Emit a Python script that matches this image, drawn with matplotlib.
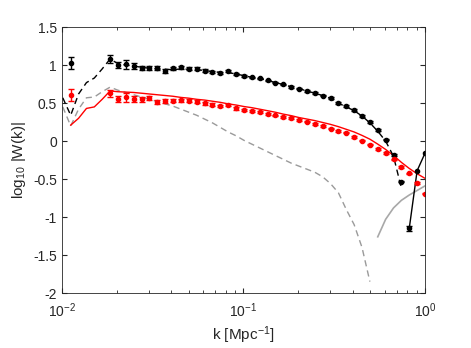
import numpy as np
import matplotlib
matplotlib.use('Agg')
import matplotlib.pyplot as plt

plt.rcParams['font.family'] = ['Liberation Sans', 'DejaVu Sans']
plt.rcParams['mathtext.fontset'] = 'custom'
plt.rcParams['mathtext.rm'] = 'Liberation Sans'
plt.rcParams['mathtext.it'] = 'Liberation Sans'

# k grid of the measured points
k_data = [0.01117, 0.01840, 0.02033, 0.02247, 0.02483, 0.02744, 0.03032,
          0.03350, 0.03703, 0.04091, 0.04521, 0.04996, 0.05521, 0.06101,
          0.06742, 0.07450, 0.08232, 0.09097, 0.1006, 0.1111, 0.1228,
          0.1357, 0.1499, 0.1657, 0.1831, 0.2023, 0.2236, 0.2471, 0.2730,
          0.3017, 0.3334, 0.3684, 0.4071, 0.4498, 0.4971, 0.5493, 0.6070,
          0.6708, 0.7413, 0.8190, 0.9051, 1.0]

black_y = [1.03, 1.08, 1.00, 1.01, 0.99, 0.96, 0.96, 0.96, 0.925, 0.96,
           0.97, 0.95, 0.95, 0.925, 0.91, 0.90, 0.92, 0.88, 0.855, 0.84,
           0.825, 0.80, 0.77, 0.745, 0.715, 0.69, 0.66, 0.63, 0.60, 0.565,
           0.50, 0.46, 0.41, 0.33, 0.25, 0.145, 0.02, -0.18, -0.535, -1.15,
           -0.39, -0.16]
black_err = [0.08, 0.05, 0.04, 0.06, 0.04, 0.03, 0.03, 0.025, 0.025, 0.02,
             0.02, 0.02, 0.02, 0.02, 0.015, 0.015, 0.015, 0.015, 0.01, 0.01,
             0.01, 0.01, 0.01, 0.01, 0.01, 0.01, 0.01, 0.01, 0.01, 0.01,
             0.01, 0.01, 0.01, 0.01, 0.01, 0.01, 0.01, 0.01, 0.01, 0.03,
             0.01, 0.01]

red_y = [0.605, 0.63, 0.56, 0.575, 0.55, 0.55, 0.57, 0.51, 0.53, 0.53,
         0.54, 0.53, 0.515, 0.50, 0.48, 0.46, 0.475, 0.43, 0.41, 0.395,
         0.38, 0.355, 0.34, 0.32, 0.305, 0.275, 0.255, 0.225, 0.20, 0.165,
         0.135, 0.11, 0.055, 0.005, -0.045, -0.105, -0.16, -0.24, -0.34,
         -0.425, -0.55, -0.69]
red_err = [0.08, 0.045, 0.04, 0.06, 0.04, 0.03, 0.03, 0.025, 0.025, 0.02,
           0.02, 0.02, 0.02, 0.02, 0.015, 0.015, 0.015, 0.015, 0.01, 0.01,
           0.01, 0.01, 0.01, 0.01, 0.01, 0.01, 0.01, 0.01, 0.01, 0.01,
           0.01, 0.01, 0.01, 0.01, 0.01, 0.01, 0.01, 0.01, 0.01, 0.01,
           0.01, 0.01]

# model grid
k_model = [0.0101, 0.01117, 0.01234, 0.01364, 0.01507, 0.01665, 0.01840,
           0.02033, 0.02247, 0.02483, 0.02744, 0.03032, 0.03350, 0.03703,
           0.04091, 0.04521, 0.04996, 0.05521, 0.06101, 0.06742, 0.07450,
           0.08232, 0.09097, 0.1006, 0.1111, 0.1228, 0.1357, 0.1499, 0.1657,
           0.1831, 0.2023, 0.2236, 0.2471, 0.2730, 0.3017, 0.3334, 0.3684,
           0.4071, 0.4498, 0.4971, 0.5493, 0.6070, 0.6708, 0.7413, 0.8190,
           0.9051, 1.0]

black_model = [0.57, 0.34, 0.62, 0.77, 0.83, 0.95, 1.08, 1.02, 1.0, 0.99,
               0.97, 0.96, 0.95, 0.945, 0.94, 0.95, 0.945, 0.94, 0.93, 0.915,
               0.905, 0.9, 0.885, 0.86, 0.84, 0.825, 0.80, 0.77, 0.745, 0.715,
               0.69, 0.66, 0.63, 0.60, 0.56, 0.50, 0.45, 0.40, 0.33, 0.24,
               0.13, 0.0, -0.2, -0.62]

red_model = [0.21, 0.30, 0.43, 0.45, 0.55, 0.66, 0.65, 0.645, 0.64, 0.63,
             0.62, 0.61, 0.60, 0.59, 0.575, 0.565, 0.55, 0.54, 0.525, 0.51,
             0.49, 0.475, 0.455, 0.44, 0.42, 0.40, 0.38, 0.355, 0.335, 0.31,
             0.29, 0.27, 0.245, 0.22, 0.19, 0.155, 0.12, 0.075, 0.025, -0.04,
             -0.11, -0.19, -0.28, -0.36, -0.43, -0.49]

gray_dashed = [0.45, 0.2, 0.42, 0.57, 0.58, 0.65, 0.71, 0.67, 0.64, 0.61,
               0.58, 0.55, 0.52, 0.49, 0.46, 0.42, 0.38, 0.34, 0.29, 0.24,
               0.18, 0.12, 0.07, 0.01, -0.04, -0.09, -0.14, -0.19, -0.24,
               -0.29, -0.33, -0.37, -0.41, -0.47, -0.56, -0.68, -0.9, -1.1,
               -1.4, -1.85]

gray_solid = [-1.26, -1.03, -0.88, -0.78, -0.71, -0.65, -0.59]

fig = plt.figure(figsize=(4.71, 3.48), dpi=100)
ax = fig.add_axes([0.1316, 0.158, 0.7707, 0.764])

ax.plot(k_model[:len(gray_dashed)], gray_dashed, '--', color='#9a9a9a',
        lw=1.0, dashes=(4.5, 3))
ax.plot(k_model[-len(gray_solid):], gray_solid, '-', color='#a8a8a8', lw=1.2)
ax.plot(k_model[1:], red_model, '-', color='red', lw=1.0)
ax.plot(k_model[:len(black_model)], black_model, '--', color='black',
        lw=1.0, dashes=(4.5, 3))

n_err = len(k_data) - 2
ax.errorbar(k_data[:n_err], black_y[:n_err], yerr=black_err[:n_err], fmt='o',
            color='black', ms=3, capsize=2.5, elinewidth=1, capthick=1)
ax.plot(k_data[-3:], black_y[-3:], '-', color='black', lw=1.0)
ax.plot(k_data[-2:], black_y[-2:], 'o', color='black', ms=3)
ax.errorbar(k_data, red_y, yerr=red_err, fmt='o', color='red', ms=3,
            capsize=2.5, elinewidth=1, capthick=1)

ax.set_xscale('log')
ax.set_xlim(0.01, 1)
ax.set_ylim(-2, 1.5)
ax.set_yticks(np.arange(-2, 1.51, 0.5))
ax.set_yticklabels(['-2', '-1.5', '-1', '-0.5', '0', '0.5', '1', '1.5'])
ax.set_xticks([0.01, 0.1, 1])
ax.set_xticklabels(['$10^{-2}$', '$10^{-1}$', '$10^{0}$'])
ax.tick_params(which='both', direction='in', top=True, right=True,
               color='#262626', labelsize=10, labelcolor='#262626')
ax.tick_params(which='major', length=3.5)
ax.tick_params(which='minor', length=2)
ax.tick_params(axis='x', pad=6)
for s in ax.spines.values():
    s.set_color('#262626')
    s.set_linewidth(0.6)

ax.set_xlabel('k [Mpc$^{-1}$]', fontsize=11, color='#262626', labelpad=3)
ax.set_ylabel('log$_{10}$ |W(k)|', fontsize=11, color='#262626')

fig.savefig('out.png', dpi=100)
